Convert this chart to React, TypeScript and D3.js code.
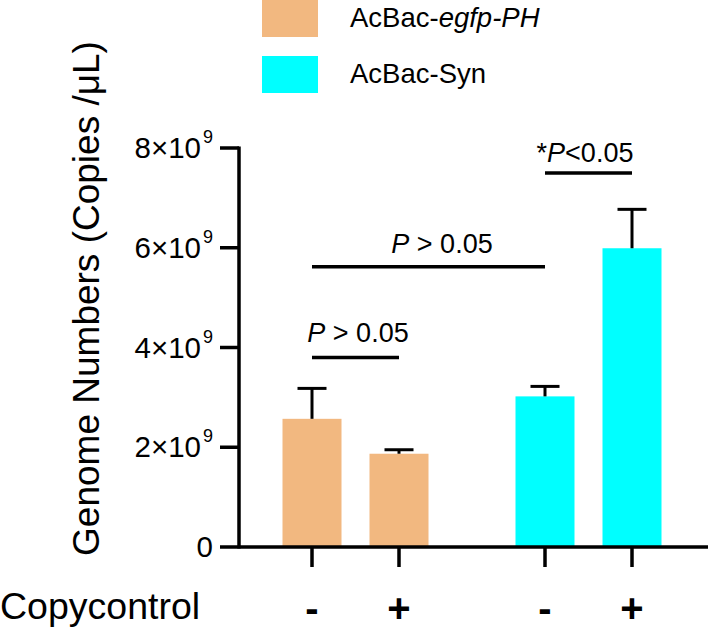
import React from "react";
import * as d3 from "d3";

const groups = ["AcBac-egfp-PH", "AcBac-Syn"];
const conditions = ["-", "+"];
const meansEgfp = [2.57e9, 1.87e9];
const meansSyn = [3.02e9, 5.99e9];
const errEgfp = [0.61e9, 0.08e9];
const errSyn = [0.2e9, 0.78e9];
const yTicks = [0, 2e9, 4e9, 6e9, 8e9];
const colors = ["#F2B880", "#00FFFF"];

const FONT = "Liberation Sans, Arial, sans-serif";

export default function App() {
  const W = 711, H = 632;
  const axisX = 239;
  const y = d3.scaleLinear().domain([0, 8e9]).range([547, 148]);
  const gx = d3.scalePoint<string>().domain(groups).range([355.5, 588.5]);
  const ix = d3.scalePoint<string>().domain(conditions).range([-43.5, 43.5]);
  const barW = 59;
  const capW = 29;
  const means = [meansEgfp, meansSyn];
  const errs = [errEgfp, errSyn];

  const bars: any[] = [];
  groups.forEach((g, gi) => {
    conditions.forEach((c, ci) => {
      const cx = (gx(g) as number) + (ix(c) as number);
      bars.push({ g, gi, c, cx, v: means[gi][ci], e: errs[gi][ci] });
    });
  });

  const xOf = (gi: number, ci: number) => (gx(groups[gi]) as number) + (ix(conditions[ci]) as number);

  const tickLabel = (t: number) => {
    if (t === 0) return <tspan>0</tspan>;
    const m = t / 1e9;
    return (
      <>
        <tspan>{`${m}×10`}</tspan>
        <tspan fontSize={18} dy={-15} dx={2}>9</tspan>
      </>
    );
  };

  const sig = [
    { x1: xOf(0, 0), x2: xOf(0, 1), yv: 3.8e9 },
    { x1: xOf(0, 0), x2: xOf(1, 0), yv: 5.62e9 },
    { x1: xOf(1, 0), x2: xOf(1, 1), yv: 7.5e9 },
  ];

  return (
    <svg width={W} height={H} style={{ position: "absolute", left: 0, top: 0, background: "#fff" }} fontFamily={FONT}>
      {/* legend */}
      {groups.map((g, i) => (
        <g key={g}>
          <rect x={262} y={i * 56} width={56} height={37} fill={colors[i]} />
          <text x={350} y={i * 56 + 27} fontSize={27.5} fill="#000">
            {i === 0 ? (
              <>
                <tspan>AcBac-</tspan>
                <tspan fontStyle="italic">egfp-PH</tspan>
              </>
            ) : (
              "AcBac-Syn"
            )}
          </text>
        </g>
      ))}

      {/* bars */}
      {bars.map((b, i) => (
        <g key={i}>
          <rect x={b.cx - barW / 2} y={y(b.v)} width={barW} height={y(0) - y(b.v)} fill={colors[b.gi]} />
          <line x1={b.cx} x2={b.cx} y1={y(b.v)} y2={y(b.v + b.e)} stroke="#000" strokeWidth={3} />
          <line x1={b.cx - capW / 2} x2={b.cx + capW / 2} y1={y(b.v + b.e)} y2={y(b.v + b.e)} stroke="#000" strokeWidth={3} />
        </g>
      ))}

      {/* y axis */}
      <line x1={axisX} x2={axisX} y1={y(8e9) - 1.5} y2={y(0) + 1.5} stroke="#000" strokeWidth={3.5} />
      {yTicks.map((t) => (
        <g key={t}>
          <line x1={220} x2={axisX} y1={y(t)} y2={y(t)} stroke="#000" strokeWidth={3.5} />
          <text x={213} y={y(t) + 10} textAnchor="end" fontSize={29.5} fill="#000">
            {tickLabel(t)}
          </text>
        </g>
      ))}

      {/* x axis */}
      <line x1={axisX} x2={708} y1={y(0)} y2={y(0)} stroke="#000" strokeWidth={3.5} />
      {bars.map((b, i) => (
        <g key={"xt" + i}>
          <line x1={b.cx} x2={b.cx} y1={y(0)} y2={567} stroke="#000" strokeWidth={3.5} />
          <text x={b.cx} y={622} textAnchor="middle" fontSize={40} fontWeight="bold" fill="#000">
            {b.c}
          </text>
        </g>
      ))}
      <text x={0} y={619} fontSize={37.5} fill="#000">Copycontrol</text>

      {/* y label */}
      <text transform={`translate(99,298.5) rotate(-90)`} textAnchor="middle" fontSize={37} fill="#000">
        Genome Numbers (Copies /μL)
      </text>

      {/* significance */}
      {sig.map((s, i) => (
        <line key={"s" + i} x1={s.x1} x2={s.x2} y1={y(s.yv)} y2={y(s.yv)} stroke="#000" strokeWidth={3.5} />
      ))}
      <text x={358} y={y(sig[0].yv) - 15} textAnchor="middle" fontSize={27} fill="#000">
        <tspan fontStyle="italic">P</tspan>
        <tspan> &gt; 0.05</tspan>
      </text>
      <text x={442} y={y(sig[1].yv) - 14} textAnchor="middle" fontSize={27} fill="#000">
        <tspan fontStyle="italic">P</tspan>
        <tspan> &gt; 0.05</tspan>
      </text>
      <text x={585} y={y(sig[2].yv) - 11} textAnchor="middle" fontSize={27} fill="#000">
        <tspan>*</tspan>
        <tspan fontStyle="italic">P</tspan>
        <tspan>&lt;0.05</tspan>
      </text>
    </svg>
  );
}
